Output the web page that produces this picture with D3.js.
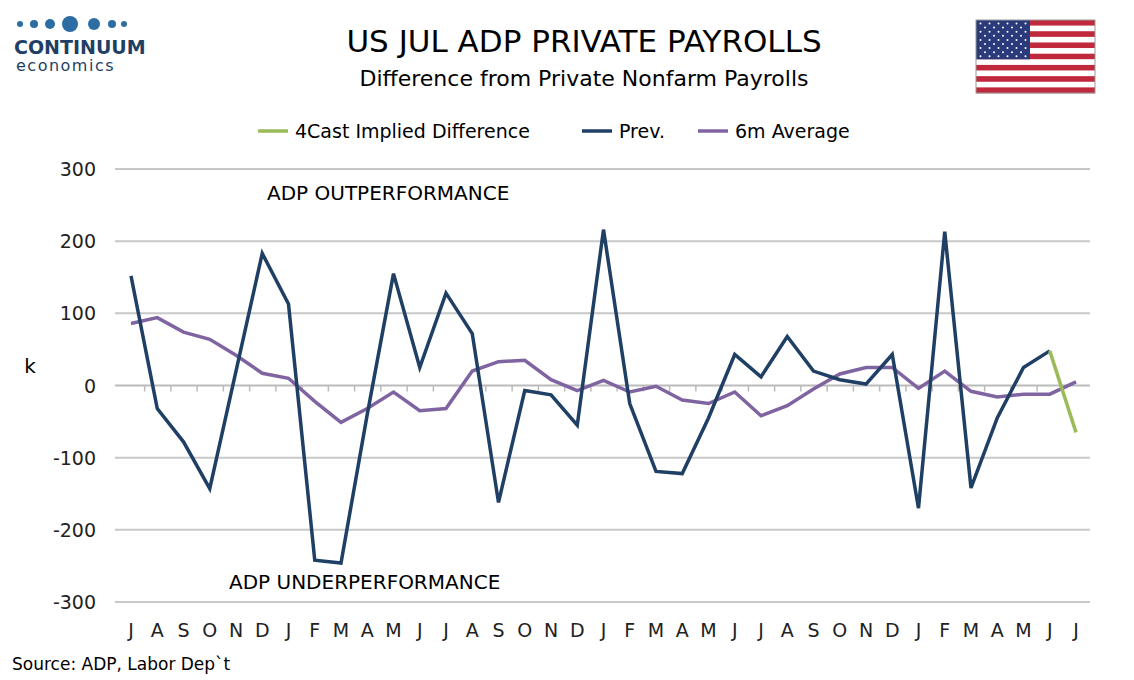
<!DOCTYPE html>
<html><head><meta charset="utf-8">
<script src="https://cdn.jsdelivr.net/npm/d3@7"></script>
<style>body{margin:0;background:#fff}text{font-family:Verdana,"DejaVu Sans",sans-serif}</style>
</head><body><svg id="c" width="1134" height="680"></svg>
<script>
const months = ["J","A","S","O","N","D","J","F","M","A","M","J","J","A","S","O","N","D","J","F","M","A","M","J","J","A","S","O","N","D","J","F","M","A","M","J","J"];
const prev = [152,-32,-78,-143,20,183,113,-242,-246,-40,155,25,128,72,-162,-7,-13,-55,216,-25,-119,-122,-45,43,12,68,20,8,2,43,-170,213,-142,-45,25,48,null];
const avg6m = [86,94,74,64,42,17,10,-22,-51,-32,-9,-35,-32,20,33,35,8,-7,7,-9,-1,-20,-25,-9,-42,-28,-5,16,25,25,-4,20,-8,-16,-12,-12,5];
const implied = [null,null,null,null,null,null,null,null,null,null,null,null,null,null,null,null,null,null,null,null,null,null,null,null,null,null,null,null,null,null,null,null,null,null,null,48,-65];
const yTicks = [300,200,100,0,-100,-200,-300];

const svg = d3.select("#c");
const x = d3.scalePoint().domain(d3.range(months.length)).range([131,1076]);
const y = d3.scaleLinear().domain([-300,300]).range([602,169]);

// grid
svg.selectAll(".g").data(yTicks.filter(d=>d!==0)).enter().append("line")
  .attr("x1",115).attr("x2",1090).attr("y1",d=>y(d)).attr("y2",d=>y(d))
  .attr("stroke","#c8c8c8").attr("stroke-width",2);
svg.selectAll(".yl").data(yTicks).enter().append("text")
  .attr("x",96).attr("y",d=>y(d)+7).attr("text-anchor","end")
  .attr("font-size",19).attr("fill","#222").text(d=>d);
// zero axis with ticks
const xa = svg.append("g").attr("transform",`translate(0,${y(0)})`)
  .call(d3.axisBottom(x).tickSize(6).tickFormat(""));
xa.select(".domain").attr("d","M115,0H1090").attr("stroke","#bbb").attr("stroke-width",2);
xa.selectAll(".tick line").attr("stroke","#bbb").attr("stroke-width",1.5)
  .attr("transform",`translate(${x.step()/2},0)`);
xa.selectAll(".tick").filter((d,i)=>i===months.length-1).select("line").remove();
svg.selectAll(".xl").data(months).enter().append("text")
  .attr("x",(d,i)=>x(i)).attr("y",637).attr("text-anchor","middle")
  .attr("font-size",19).attr("fill","#222").text(d=>d);

svg.append("text").attr("x",30).attr("y",373).attr("text-anchor","middle").attr("font-size",20).text("k");

const line = d3.line().defined(d=>d!=null).x((d,i)=>x(i)).y(d=>y(d));
svg.append("path").datum(avg6m).attr("d",line).attr("fill","none").attr("stroke","#8064a2").attr("stroke-width",3.5);
svg.append("path").datum(prev).attr("d",line).attr("fill","none").attr("stroke","#1f3f64").attr("stroke-width",3.5);
svg.append("path").datum(implied).attr("d",line).attr("fill","none").attr("stroke","#9bbb59").attr("stroke-width",3.5);

svg.append("text").attr("x",267).attr("y",200).attr("font-size",20).text("ADP OUTPERFORMANCE");
svg.append("text").attr("x",229).attr("y",589).attr("font-size",20).text("ADP UNDERPERFORMANCE");

// titles
svg.append("text").attr("x",584).attr("y",52).attr("text-anchor","middle").attr("font-size",31).text("US JUL ADP PRIVATE PAYROLLS");
svg.append("text").attr("x",584).attr("y",86).attr("text-anchor","middle").attr("font-size",22).text("Difference from Private Nonfarm Payrolls");

// legend
const leg = [["4Cast Implied Difference","#9bbb59",258],["Prev.","#1f3f64",582],["6m Average","#8064a2",698]];
leg.forEach(([t,c,lx])=>{
  svg.append("line").attr("x1",lx).attr("x2",lx+30).attr("y1",131).attr("y2",131).attr("stroke",c).attr("stroke-width",3.5);
  svg.append("text").attr("x",lx+37).attr("y",138).attr("font-size",19).text(t);
});

svg.append("text").attr("x",12).attr("y",670).attr("font-size",17).text("Source: ADP, Labor Dep`t");

// logo
[[20,3],[34,4],[50,5],[70,8],[94,6],[112,4],[124,3]].forEach(([cx,r])=>
  svg.append("circle").attr("cx",cx).attr("cy",24).attr("r",r).attr("fill","#2c6da4"));
svg.append("text").attr("x",14).attr("y",54).attr("font-size",19).attr("font-weight","bold").attr("fill","#1f3f64").text("CONTINUUM");
svg.append("text").attr("x",16).attr("y",71).attr("font-size",16).attr("letter-spacing",1.5).attr("fill","#1f3f64").text("economics");

// flag
const fg = svg.append("g").attr("transform","translate(976,20)");
d3.range(13).forEach(i=>fg.append("rect").attr("x",0).attr("y",i*73/13).attr("width",119).attr("height",73/13+0.3)
  .attr("fill",i%2?"#fff":"#c0283c"));
fg.append("rect").attr("width",54).attr("height",73*7/13).attr("fill","#2a3a7a");
d3.range(9).forEach(r=>d3.range(r%2?5:6).forEach(c=>
  fg.append("circle").attr("cx",(r%2?9:4.5)+c*9).attr("cy",3.5+r*4.1).attr("r",1).attr("fill","#fff")));
fg.append("rect").attr("width",119).attr("height",73).attr("fill","none").attr("stroke","#999");
</script></body></html>
